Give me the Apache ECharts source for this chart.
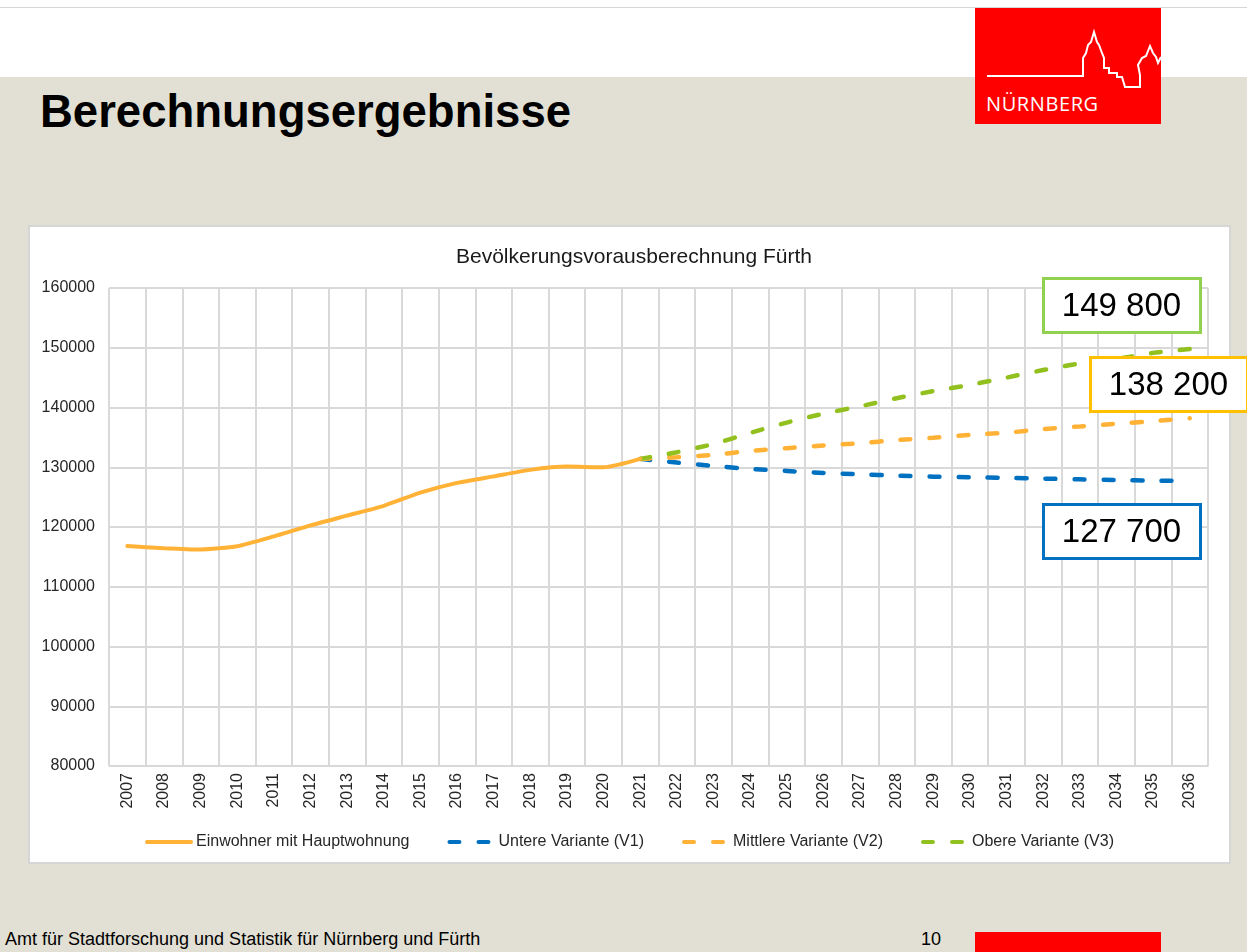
<!DOCTYPE html>
<html>
<head>
<meta charset="utf-8">
<script src="https://cdn.jsdelivr.net/npm/echarts@6/dist/echarts.min.js"></script>
<style>
  html, body { margin: 0; padding: 0; }
  body { width: 1247px; height: 952px; position: relative; overflow: hidden; background: #e2dfd5; font-family: "Liberation Sans", Arial, sans-serif; }
  .topband { position: absolute; left: 0; top: 0; width: 1247px; height: 77px; background: #fff; }
  .topline { position: absolute; left: 0; top: 7px; width: 1247px; height: 1px; background: #d6d6d6; }
  .logo { position: absolute; left: 975px; top: 8px; width: 186px; height: 116px; background: #ff0000; }
  .logo span { position: absolute; left: 11px; top: 82px; color: #fff; font-family: "Open Sans", "Noto Sans", sans-serif; font-size: 20px; letter-spacing: 0.6px; }
  .title { position: absolute; left: 40px; top: 86px; font-size: 45.5px; font-weight: bold; color: #000; }
  .panel { position: absolute; left: 30px; top: 227px; width: 1199px; height: 635px; background: #fff; box-shadow: 0 0 0 2px #d6d6d6; }
  .footer { position: absolute; left: 5px; top: 929px; font-size: 18px; color: #000; }
  .page { position: absolute; left: 921px; top: 929px; font-size: 18px; color: #000; }
  .redfoot { position: absolute; left: 975px; top: 932px; width: 186px; height: 20px; background: #ff0000; }
  #chart { position: absolute; left: 0; top: 0; width: 1247px; height: 952px; }
</style>
</head>
<body>
<div class="topband"></div>
<div class="topline"></div>
<div class="logo">
  <svg width="186" height="116" style="position:absolute;left:0;top:0">
    <polyline fill="none" stroke="#fff" stroke-width="2"
      points="12,68 108,68 108,50 111,45 113,37 116,34 119,24 122,34 124,37 127,45 129,50 129,60 134,60 134,65 142,65 142,69 147,69 150,79 165,79 165,67 163,57 167,50 171,48 175,38 178,45 181,49 183,55 186,49"/>
  </svg>
  <span>NÜRNBERG</span>
</div>
<div class="title">Berechnungsergebnisse</div>
<div class="panel"></div>
<div class="footer">Amt für Stadtforschung und Statistik für Nürnberg und Fürth</div>
<div class="page">10</div>
<div class="redfoot"></div>
<div id="chart"></div>
<script>
// Bevölkerungsvorausberechnung Fürth
var years = ['2007','2008','2009','2010','2011','2012','2013','2014','2015','2016',
  '2017','2018','2019','2020','2021','2022','2023','2024','2025','2026',
  '2027','2028','2029','2030','2031','2032','2033','2034','2035','2036'];

var einwohner = [116800, 116450, 116230, 116780, 118420, 120270, 121910, 123550, 125740, 127380,
  128470, 129560, 130110, 130000, 131400, null, null, null, null, null,
  null, null, null, null, null, null, null, null, null, null];

var untere = [null, null, null, null, null, null, null, null, null, null,
  null, null, null, null, 131400, 130780, 130220, 129720, 129380, 129050,
  128820, 128600, 128430, 128320, 128210, 128100, 127980, 127870, 127760, 127700];

var mittlere = [null, null, null, null, null, null, null, null, null, null,
  null, null, null, null, 131400, 131680, 132070, 132740, 133190, 133640,
  134030, 134540, 134930, 135430, 135770, 136390, 136830, 137280, 137730, 138200];

var obere = [null, null, null, null, null, null, null, null, null, null,
  null, null, null, null, 131400, 132520, 133890, 135740, 137480, 138970,
  140200, 141550, 142740, 143780, 145000, 146270, 147360, 148120, 149140, 149800];

var seriesNames = ['Einwohner mit Hauptwohnung', 'Untere Variante (V1)', 'Mittlere Variante (V2)', 'Obere Variante (V3)'];
var endLabels = ['149 800', '138 200', '127 700'];

var cOrange = '#ffb236', cBlue = '#0070c0', cGreen = '#92c01f';
var dash = [10, 19];

var chart = echarts.init(document.getElementById('chart'));

function box(x, y, color, text) {
  return {
    type: 'group', left: x, top: y,
    children: [
      { type: 'rect', z: 100, shape: { x: 0, y: 0, width: 157, height: 54 },
        style: { fill: '#fff', stroke: color, lineWidth: 3 } },
      { type: 'text', z: 101, style: { x: 78, y: 28, text: text, fill: '#000', fontSize: 33,
        fontFamily: 'Liberation Sans', align: 'center', verticalAlign: 'middle' } }
    ]
  };
}

chart.setOption({
  title: {
    text: 'Bevölkerungsvorausberechnung Fürth',
    left: 629, textAlign: 'center', top: 242,
    textStyle: { fontSize: 21, fontWeight: 'normal', color: '#1a1a1a', fontFamily: 'Liberation Sans' }
  },
  legend: {
    left: 140, top: 829, itemWidth: 44, itemHeight: 14, itemGap: 38,
    textStyle: { fontSize: 16, color: '#262626', fontFamily: 'Liberation Sans' },
    itemStyle: { opacity: 0 },
    lineStyle: { width: 4 },
    data: seriesNames
  },
  grid: { left: 109, right: 39, top: 288, bottom: 186 },
  xAxis: {
    type: 'category',
    data: years,
    boundaryGap: true,
    axisLine: { lineStyle: { color: '#d9d9d9', width: 1 } },
    axisTick: { show: false },
    axisLabel: { rotate: 90, margin: 7, fontSize: 16, color: '#262626', fontFamily: 'Liberation Sans', interval: 0 },
    splitLine: { show: true, interval: 0, lineStyle: { color: '#d9d9d9', width: 2 } }
  },
  yAxis: {
    type: 'value', min: 80000, max: 160000, interval: 10000,
    axisLine: { show: false },
    axisTick: { show: false },
    axisLabel: { margin: 14, fontSize: 16, color: '#262626', fontFamily: 'Liberation Sans',
      formatter: function (v) { return String(v); } },
    splitLine: { lineStyle: { color: '#d9d9d9', width: 2 } }
  },
  series: [
    { name: seriesNames[0], type: 'line', data: einwohner, symbol: 'none', smooth: 0.2,
      color: cOrange, lineStyle: { width: 4, color: cOrange, cap: 'round' }, z: 5 },
    { name: seriesNames[1], type: 'line', data: untere, symbol: 'none', smooth: 0.2,
      color: cBlue, lineStyle: { width: 4.5, color: cBlue, type: dash, cap: 'round' } },
    { name: seriesNames[2], type: 'line', data: mittlere, symbol: 'none', smooth: 0.2,
      color: cOrange, lineStyle: { width: 4.5, color: cOrange, type: dash, cap: 'round' } },
    { name: seriesNames[3], type: 'line', data: obere, symbol: 'none', smooth: 0.2,
      color: cGreen, lineStyle: { width: 4.5, color: cGreen, type: dash, cap: 'round' } }
  ],
  graphic: [
    box(1042, 277, '#92d050', endLabels[0]),
    box(1089, 356, '#ffc000', endLabels[1]),
    box(1042, 503, '#0070c0', endLabels[2])
  ]
});
</script>
</body>
</html>
